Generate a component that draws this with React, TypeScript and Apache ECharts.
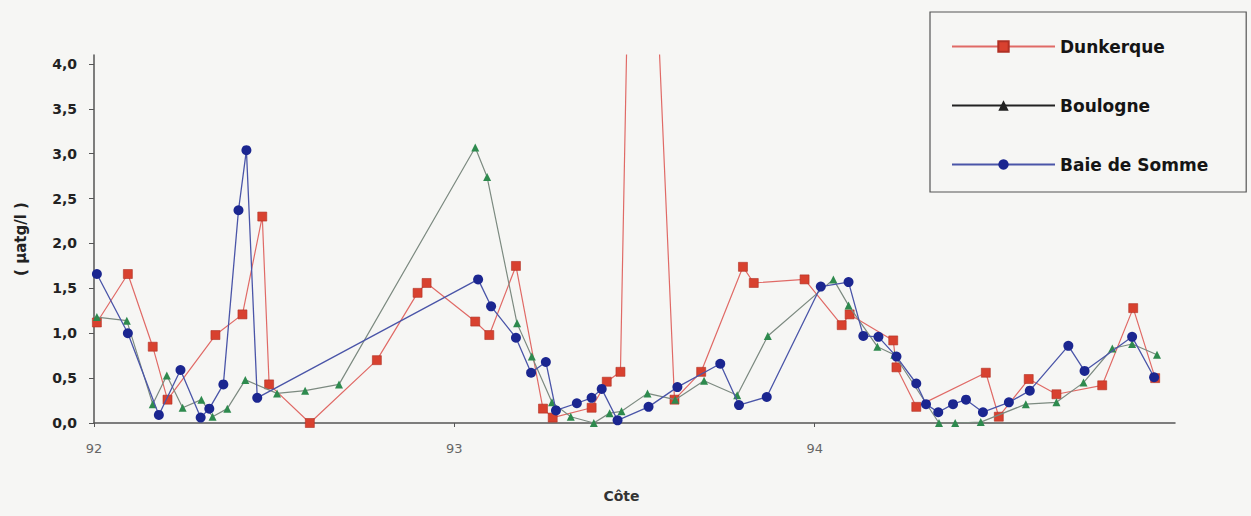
import { useEffect, useRef } from "react";
import * as echarts from "echarts";

// Sampling dates (decimal years) and concentrations (µatg/l) per station
const dunkerqueT = [
  92.008, 92.094, 92.163, 92.204, 92.337, 92.412, 92.467, 92.486, 92.599, 92.785,
  92.898, 92.923, 93.058, 93.097, 93.171, 93.246, 93.273, 93.381, 93.423, 93.461,
  93.506, 93.611, 93.685, 93.801, 93.831, 93.972, 94.075, 94.097, 94.218, 94.227,
  94.282, 94.475, 94.511, 94.594, 94.671, 94.798, 94.884, 94.945,
];
const dunkerqueV = [
  1.12, 1.66, 0.85, 0.26, 0.98, 1.21, 2.3, 0.43, 0.0, 0.7,
  1.45, 1.56, 1.13, 0.98, 1.75, 0.16, 0.06, 0.17, 0.46, 0.57,
  10.0, 0.26, 0.57, 1.74, 1.56, 1.6, 1.09, 1.21, 0.92, 0.62,
  0.18, 0.56, 0.07, 0.49, 0.32, 0.42, 1.28, 0.5,
];

const boulogneT = [
  92.008, 92.091, 92.163, 92.202, 92.246, 92.298, 92.329, 92.37, 92.42, 92.508,
  92.586, 92.68, 93.058, 93.091, 93.174, 93.215, 93.271, 93.323, 93.387, 93.431,
  93.464, 93.536, 93.613, 93.693, 93.785, 93.87, 94.052, 94.094, 94.174, 94.221,
  94.345, 94.39, 94.461, 94.586, 94.671, 94.746, 94.826, 94.881, 94.95,
];
const boulogneV = [
  1.18, 1.14, 0.21, 0.53, 0.17, 0.26, 0.07, 0.16, 0.48, 0.33,
  0.36, 0.43, 3.07, 2.74, 1.11, 0.74, 0.23, 0.07, 0.0, 0.11,
  0.13, 0.33, 0.26, 0.47, 0.31, 0.97, 1.6, 1.31, 0.85, 0.76,
  0.0, 0.0, 0.01, 0.21, 0.23, 0.45, 0.83, 0.88, 0.76,
];

const sommeT = [
  92.008, 92.094, 92.18, 92.24, 92.296, 92.32, 92.359, 92.401, 92.423, 92.453,
  93.066, 93.102, 93.171, 93.213, 93.254, 93.282, 93.34, 93.381, 93.409, 93.453,
  93.539, 93.619, 93.738, 93.79, 93.867, 94.017, 94.094, 94.135, 94.177, 94.227,
  94.282, 94.309, 94.343, 94.384, 94.42, 94.467, 94.539, 94.597, 94.704, 94.749,
  94.881, 94.942,
];
const sommeV = [
  1.66, 1.0, 0.09, 0.59, 0.06, 0.16, 0.43, 2.37, 3.04, 0.28,
  1.6, 1.3, 0.95, 0.56, 0.68, 0.14, 0.22, 0.28, 0.38, 0.03,
  0.18, 0.4, 0.66, 0.2, 0.29, 1.52, 1.57, 0.97, 0.96, 0.74,
  0.44, 0.21, 0.12, 0.21, 0.26, 0.12, 0.23, 0.36, 0.86, 0.58,
  0.96, 0.51,
];

const yTicks = [0, 0.5, 1, 1.5, 2, 2.5, 3, 3.5, 4];
const xTicks = [92, 93, 94];

const pairs = (t: number[], v: number[]) => t.map((x, i) => [x, v[i]]);

const FONT = "'DejaVu Sans', 'Liberation Sans', sans-serif";

export default function App() {
  const ref = useRef<HTMLDivElement>(null);

  useEffect(() => {
    const chart = echarts.init(ref.current!, null, { renderer: "svg" });
    chart.setOption({
      animation: false,
      backgroundColor: "#f6f6f4",
      grid: { left: 94, right: 76, top: 55, bottom: 93 },
      legend: {
        orient: "vertical",
        left: 930,
        top: 12,
        padding: [26, 38, 19, 21],
        borderColor: "#555",
        borderWidth: 1.2,
        itemWidth: 103,
        itemHeight: 13,
        itemGap: 42,
        textStyle: { fontFamily: FONT, fontWeight: "bold", fontSize: 17, color: "#151515" },
        data: [
          { name: "Dunkerque" },
          { name: "Boulogne", itemStyle: { color: "#222", borderColor: "#222" }, lineStyle: { color: "#222" } },
          { name: "Baie de Somme" },
        ],
      },
      xAxis: {
        type: "value",
        min: 92,
        max: 95,
        name: "Côte",
        nameLocation: "middle",
        nameGap: 66,
        nameTextStyle: {
          fontFamily: FONT,
          fontWeight: "bold",
          fontSize: 14,
          color: "#333",
          padding: [0, 26, 0, 0],
        },
        splitLine: { show: false },
        axisLine: { lineStyle: { color: "#555", width: 1.5 } },
        axisTick: { customValues: xTicks, length: 4, lineStyle: { color: "#555" } },
        axisLabel: {
          customValues: xTicks,
          margin: 19,
          fontFamily: FONT,
          fontSize: 13,
          color: "#666",
          formatter: (v: number) => String(v),
        },
      },
      yAxis: {
        type: "value",
        min: 0,
        max: 4.1,
        name: "( µatg/l )",
        nameLocation: "middle",
        nameGap: 66,
        nameTextStyle: { fontFamily: FONT, fontWeight: "bold", fontSize: 15, color: "#222" },
        splitLine: { show: false },
        axisLine: { show: true, lineStyle: { color: "#555", width: 1.5 } },
        axisTick: { show: true, customValues: yTicks, length: 5, lineStyle: { color: "#555" } },
        axisLabel: {
          customValues: yTicks,
          margin: 17,
          fontFamily: FONT,
          fontWeight: "bold",
          fontSize: 14,
          color: "#222",
          formatter: (v: number) => v.toFixed(1).replace(".", ","),
        },
      },
      series: [
        {
          name: "Dunkerque",
          type: "line",
          data: pairs(dunkerqueT, dunkerqueV),
          clip: true,
          symbol: "rect",
          symbolSize: 9,
          lineStyle: { color: "#e06a66", width: 1.2 },
          itemStyle: { color: "#d8412f", borderColor: "#b03024", borderWidth: 0.6 },
          z: 2,
        },
        {
          name: "Boulogne",
          type: "line",
          data: pairs(boulogneT, boulogneV),
          clip: true,
          symbol: "triangle",
          symbolSize: 8,
          lineStyle: { color: "#7c8a80", width: 1.2 },
          itemStyle: { color: "#2e8a4e" },
          z: 3,
        },
        {
          name: "Baie de Somme",
          type: "line",
          data: pairs(sommeT, sommeV),
          clip: true,
          symbol: "circle",
          symbolSize: 10,
          lineStyle: { color: "#4a55a8", width: 1.3 },
          itemStyle: { color: "#1b2690" },
          z: 4,
        },
      ],
    });
    return () => chart.dispose();
  }, []);

  return (
    <div
      ref={ref}
      style={{ position: "fixed", left: 0, top: 0, width: 1251, height: 516 }}
    />
  );
}
